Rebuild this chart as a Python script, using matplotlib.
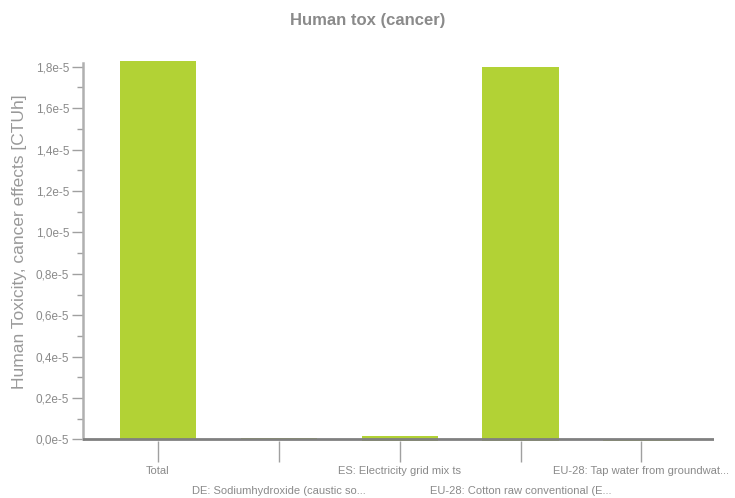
import matplotlib
matplotlib.use('Agg')
import matplotlib.pyplot as plt
from matplotlib.ticker import MultipleLocator, FuncFormatter

plt.rcParams['font.family'] = ['Liberation Sans', 'DejaVu Sans']

categories = ['Total',
              'DE: Sodiumhydroxide (caustic so...',
              'ES: Electricity grid mix ts',
              'EU-28: Cotton raw conventional (E...',
              'EU-28: Tap water from groundwat...']
# positive and negative parts of each bar
values_pos = [1.829e-5, 8.7e-8, 1.69e-7, 1.800e-5, 0.0]
values_neg = [0.0, 0.0, -8.7e-8, -8.7e-8, -9.0e-8]

bar_color = '#b2d235'
grey = '#8a8a8a'

fig = plt.figure(figsize=(7.35, 4.98), dpi=100)
ax = fig.add_axes([0.1129, 0.1135, 0.8585, 0.76])

x = range(len(categories))
ax.bar(x, values_pos, width=0.63, color=bar_color, clip_on=False, zorder=2)
ax.bar(x, values_neg, width=0.63, color=bar_color, clip_on=False, zorder=2)

# x axis line at zero
ax.axhline(0, color='#808080', lw=2, zorder=3)

ax.set_xlim(-0.62, 4.60)
ax.set_ylim(-9.7e-8, 1.8179e-5)

for s in ['top', 'right', 'bottom']:
    ax.spines[s].set_visible(False)
ax.spines['left'].set_color('#b0b0b0')
ax.spines['left'].set_linewidth(1.8)
ax.spines['left'].set_bounds(0, 1.8179e-5)

ax.yaxis.set_major_locator(MultipleLocator(2e-6))
ax.yaxis.set_minor_locator(MultipleLocator(1e-6))
ax.yaxis.set_major_formatter(FuncFormatter(lambda v, p: ('%.1f' % (v * 1e5)).replace('.', ',').replace('-0,0', '0,0') + 'e-5'))
ax.tick_params(axis='y', which='major', length=8, width=1, color='#a0a0a0',
               labelcolor=grey, labelsize=8.5, pad=2)
ax.tick_params(axis='y', which='minor', length=4, width=1, color='#a0a0a0')

ax.set_xticks(list(x))
ax.set_xticklabels(categories)
ax.tick_params(axis='x', length=15, width=1, color='#a0a0a0', labelcolor=grey,
               labelsize=8, pad=3)
for i, lbl in enumerate(ax.get_xticklabels()):
    if i % 2 == 1:
        lbl.set_y(-0.052)

ax.set_ylabel('Human Toxicity, cancer effects [CTUh]', color='#999999', fontsize=12.5)
ax.yaxis.set_label_coords(-0.089, 0.527)

fig.text(0.5, 0.958, 'Human tox (cancer)', ha='center', va='center',
         fontsize=12, fontweight='bold', color=grey)

fig.savefig('out.png', dpi=100)
